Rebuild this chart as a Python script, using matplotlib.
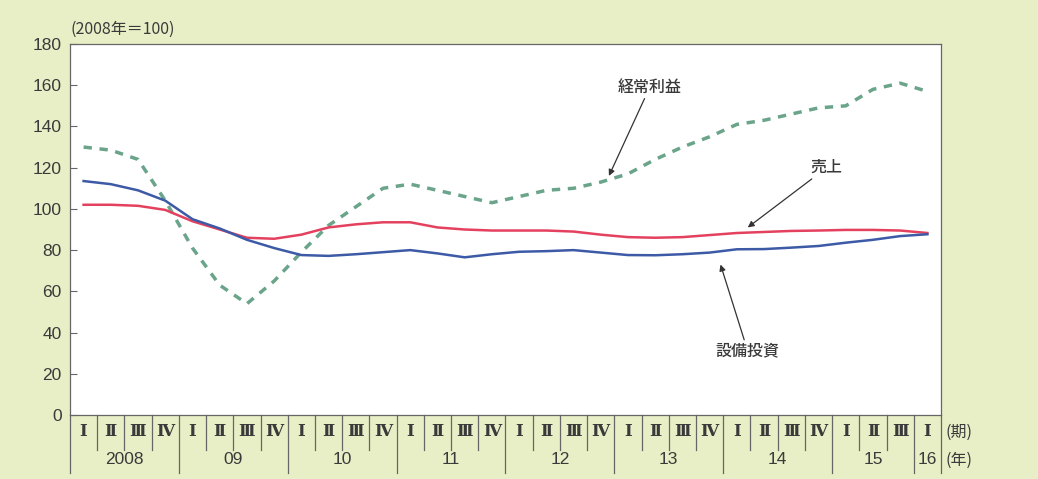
import matplotlib
matplotlib.use("Agg")
import matplotlib.pyplot as plt
import matplotlib.transforms as mtransforms

# ---- data ----
years = ["2008", "09", "10", "11", "12", "13", "14", "15", "16"]
quarters_per_year = [4, 4, 4, 4, 4, 4, 4, 3, 1]
quarter_names = ["Ⅰ", "Ⅱ", "Ⅲ", "Ⅳ"]

profit = [130, 128.5, 124, 104, 81, 63, 54, 65, 79, 92, 101, 110, 112, 109, 106, 103,
          106, 109, 110, 113, 117, 124, 130, 135, 141, 143, 146, 149, 150, 158, 161, 157]
sales = [102, 102, 101.5, 99.5, 94, 90, 86, 85.5, 87.5, 91, 92.5, 93.5, 93.5, 91, 90, 89.5,
         89.5, 89.5, 89, 87.5, 86.3, 86, 86.3, 87.3, 88.3, 88.8, 89.3, 89.5, 89.8, 89.8, 89.5, 88.3]
capex = [113.5, 112, 109, 104, 95, 90.5, 85, 81, 77.6, 77.2, 78, 79, 80, 78.4, 76.5, 78,
         79.2, 79.5, 80, 78.8, 77.6, 77.5, 78, 78.8, 80.4, 80.5, 81.2, 82, 83.6, 85, 86.8, 87.7]

yticks = [0, 20, 40, 60, 80, 100, 120, 140, 160, 180]

BG = "#e8eec6"
TXT = "#3a3a3a"
LINE = "#666"
JP = ["Noto Sans CJK JP", "DejaVu Sans"]

fig = plt.figure(figsize=(10.38, 4.79), dpi=100, facecolor=BG)
ax = fig.add_axes([70 / 1038, 1 - 415 / 479, (941 - 70) / 1038, (415 - 44) / 479])
ax.set_facecolor("white")

n = len(profit)
x = list(range(n))
ax.plot(x, sales, color="#e4415f", lw=1.8, solid_joinstyle="round", zorder=3)
ax.plot(x, capex, color="#3d5aa6", lw=1.8, solid_joinstyle="round", zorder=3)
ax.plot(x, profit, color="#6aa48a", lw=2.5, linestyle=(0, (2.4, 2.2)), zorder=2)

ax.set_xlim(-0.5, n - 0.5)
ax.set_ylim(0, 180)
ax.set_yticks(yticks)
ax.set_yticklabels([str(v) for v in yticks], fontsize=12.5, color=TXT, family="Liberation Sans")
ax.tick_params(axis="y", direction="in", length=5, width=0.8, color=LINE, pad=6)
ax.set_xticks([])
for s in ax.spines.values():
    s.set_color(LINE)
    s.set_linewidth(0.9)

# x-axis labels (quarters and years)
trans = mtransforms.blended_transform_factory(ax.transData, ax.transAxes)
qy = -(432 - 415) / 371
yy = -(460 - 415) / 371
q_sep_end = -(450 - 415) / 371
y_sep_end = -(473 - 415) / 371
pos = 0
for yr, nq in zip(years, quarters_per_year):
    start = pos - 0.5
    ax.plot([start, start], [0, y_sep_end], transform=trans, color=LINE, lw=0.9, clip_on=False)
    for q in range(nq):
        xi = pos + q
        ax.text(xi, qy, quarter_names[q], transform=trans, ha="center", va="center",
                fontsize=12, fontweight="bold", color=TXT,
                family=["DejaVu Serif", "Noto Sans CJK JP"], clip_on=False)
        if q > 0:
            ax.plot([xi - 0.5, xi - 0.5], [0, q_sep_end], transform=trans, color=LINE,
                    lw=0.9, clip_on=False)
    ax.text(pos + nq / 2 - 0.5, yy, yr, transform=trans, ha="center", va="center",
            fontsize=12.5, color=TXT, family="Liberation Sans", clip_on=False)
    pos += nq
ax.plot([pos - 0.5, pos - 0.5], [0, y_sep_end], transform=trans, color=LINE, lw=0.9, clip_on=False)
ax.text(pos - 0.5 + 0.15, qy, "(期)", transform=trans, ha="left", va="center",
        fontsize=11.5, color=TXT, family=JP, clip_on=False)
ax.text(pos - 0.5 + 0.15, yy, "(年)", transform=trans, ha="left", va="center",
        fontsize=11.5, color=TXT, family=JP, clip_on=False)

# unit label
fig.text(71 / 1038, 1 - 29 / 479, "(2008年＝100)", ha="left", va="center",
         fontsize=11.5, color=TXT, family=JP)

# annotations
arrow = dict(arrowstyle="-|>", color="#333", lw=0.9, mutation_scale=9, shrinkA=0, shrinkB=0)
ax.annotate("経常利益", xy=(19.3, 116), xytext=(20.8, 159), ha="center", va="center",
            fontsize=11.5, color=TXT, family=JP, fontweight="medium", arrowprops=arrow)
ax.annotate("売上", xy=(24.4, 91), xytext=(27.3, 120), ha="center", va="center",
            fontsize=11.5, color=TXT, family=JP, fontweight="medium", arrowprops=arrow)
ax.annotate("設備投資", xy=(23.4, 73), xytext=(24.4, 31), ha="center", va="center",
            fontsize=11.5, color=TXT, family=JP, fontweight="medium", arrowprops=arrow)

fig.savefig("out.png", dpi=100, facecolor=BG)
